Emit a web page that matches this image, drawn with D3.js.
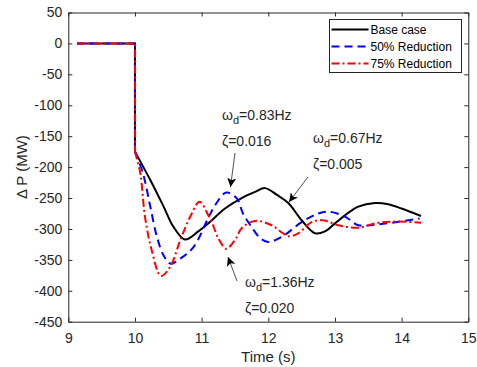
<!DOCTYPE html>
<html><head><meta charset="utf-8">
<script src="https://cdn.jsdelivr.net/npm/d3@7"></script>
<style>
body{margin:0;background:#fff;}
svg{display:block;font-family:"Liberation Sans",Arial,Helvetica,sans-serif;}
</style></head>
<body>
<script>
// ---- data ----
const xTicks = [9,10,11,12,13,14,15];
const yTicks = [50,0,-50,-100,-150,-200,-250,-300,-350,-400,-450];

const baseTime  = [9.13,10,10,10.23,10.43,10.58,10.75,10.95,11.1,11.35,11.6,11.8,11.95,12.13,12.3,12.5,12.7,12.85,13.0,13.15,13.35,13.6,13.8,14.0,14.29];
const baseValue = [0,0,-175,-221,-264,-297,-317,-304,-291,-267,-250,-240,-234,-245,-258,-286,-307,-304,-291,-278,-264,-258,-260,-267,-279];

const r50Time  = [9.13,10,10,10.12,10.23,10.33,10.43,10.53,10.68,10.88,11.1,11.2,11.37,11.53,11.62,11.75,11.88,12.0,12.2,12.5,12.75,12.9,13.15,13.35,13.6,13.85,14.15,14.27];
const r50Value = [0,0,-175,-210,-264,-313,-343,-356,-348,-329,-282,-262,-241,-251,-275,-297,-315,-321,-313,-289,-275,-272,-280,-294,-293,-290,-285,-283];

const r75Time  = [9.13,10,10,10.08,10.15,10.25,10.39,10.53,10.68,10.83,10.97,11.1,11.15,11.25,11.37,11.5,11.6,11.8,12.05,12.22,12.3,12.45,12.65,12.82,13.05,13.35,13.65,13.95,14.29];
const r75Value = [0,0,-175,-210,-280,-334,-376,-361,-318,-280,-256,-278,-288,-315,-332,-318,-299,-287,-294,-307,-312,-307,-289,-286,-294,-298,-290,-288,-290];

const seriesNames = ["Base case","50% Reduction","75% Reduction"];
const seriesColors = ["#000000","#0000ff","#ff0000"];
const seriesDash = [null,"8,5","8,3,2,3"];

const annotations = [
  {freq:"0.83Hz", zeta:"0.016", tx:222, ty:120, from:[235,153], to:[230.5,187]},
  {freq:"0.67Hz", zeta:"0.005", tx:313, ty:143, from:[308,177], to:[289,202]},
  {freq:"1.36Hz", zeta:"0.020", tx:245, ty:287, from:[237,281], to:[228,257]}
];

// ---- layout ----
const W=477,H=367;
const x=d3.scaleLinear().domain([9,15]).range([68.3,468.3]);
const y=d3.scaleLinear().domain([-450,50]).range([321.7,12.5]);
const axisCol="#262626";

const svg=d3.select("body").append("svg").attr("width",W).attr("height",H);

// data series
const series=[
  {t:baseTime,v:baseValue},
  {t:r50Time,v:r50Value},
  {t:r75Time,v:r75Value}
].map((s,i)=>({name:seriesNames[i],color:seriesColors[i],dash:seriesDash[i],pts:s.t.map((t,j)=>[t,s.v[j]])}));

const lineLin=d3.line().x(d=>x(d[0])).y(d=>y(d[1]));
const lineCurve=d3.line().x(d=>x(d[0])).y(d=>y(d[1])).curve(d3.curveCatmullRom.alpha(0.5));

const gLines=svg.append("g");
series.forEach(s=>{
  const step=s.pts.slice(0,3), rest=s.pts.slice(2);
  [ [step,lineLin],[rest,lineCurve] ].forEach(([pts,gen])=>{
    gLines.append("path").attr("d",gen(pts)).attr("fill","none")
      .attr("stroke",s.color).attr("stroke-width",2)
      .attr("stroke-dasharray",s.dash);
  });
});

// axes
const fs=14;
const ax=svg.append("g").attr("transform",`translate(0,${y(-450)})`)
  .call(d3.axisBottom(x).tickValues(xTicks).tickFormat(d3.format("d")).tickSizeInner(-4).tickSizeOuter(0).tickPadding(11));
const ay=svg.append("g").attr("transform",`translate(${x(9)},0)`)
  .call(d3.axisLeft(y).tickValues(yTicks).tickFormat(d3.format("d")).tickSizeInner(-4).tickSizeOuter(0).tickPadding(6));
const at=svg.append("g").attr("transform",`translate(0,${y(50)})`)
  .call(d3.axisTop(x).tickValues(xTicks).tickFormat("").tickSizeInner(-4).tickSizeOuter(0));
const ar=svg.append("g").attr("transform",`translate(${x(15)},0)`)
  .call(d3.axisRight(y).tickValues(yTicks).tickFormat("").tickSizeInner(-4).tickSizeOuter(0));
[ax,ay,at,ar].forEach(g=>{
  g.select(".domain").attr("stroke",axisCol).attr("stroke-width",1);
  g.selectAll(".tick line").attr("stroke",axisCol).attr("stroke-width",1);
  g.selectAll(".tick text").attr("fill",axisCol).attr("font-size",fs).attr("font-family","Liberation Sans, Arial, sans-serif");
});
ay.selectAll(".tick text").text(d=>d<0?"-"+Math.abs(d):d);

// axis labels
svg.append("text").attr("x",(x(9)+x(15))/2).attr("y",362).attr("text-anchor","middle")
  .attr("font-size",15).attr("fill",axisCol).text("Time (s)");
svg.append("text").attr("transform",`translate(27,${(y(50)+y(-450))/2}) rotate(-90)`)
  .attr("text-anchor","middle").attr("font-size",15).attr("fill",axisCol).text("\u0394 P (MW)");

// annotations
const defs=svg.append("defs");
defs.append("marker").attr("id","ah").attr("viewBox","0 0 10 10").attr("refX",10).attr("refY",5)
  .attr("markerWidth",9).attr("markerHeight",9).attr("markerUnits","userSpaceOnUse").attr("orient","auto")
  .append("path").attr("d","M0,0 L10,5 L0,10 L2.5,5 Z").attr("fill","#000");
annotations.forEach(a=>{
  const t=svg.append("text").attr("x",a.tx).attr("y",a.ty).attr("font-size",14).attr("fill",axisCol);
  t.append("tspan").text("\u03c9");
  t.append("tspan").attr("font-size",11).attr("dy",4).text("d");
  t.append("tspan").attr("dy",-4).text("="+a.freq);
  svg.append("text").attr("x",a.tx).attr("y",a.ty+26).attr("font-size",14).attr("fill",axisCol)
    .text("\u03b6="+a.zeta);
  svg.append("line").attr("x1",a.from[0]).attr("y1",a.from[1]).attr("x2",a.to[0]).attr("y2",a.to[1])
    .attr("stroke","#222").attr("stroke-width",0.8).attr("marker-end","url(#ah)");
});

// legend
const lg=svg.append("g");
lg.append("rect").attr("x",329.5).attr("y",19.5).attr("width",132).attr("height",53)
  .attr("fill","#fff").attr("stroke","#262626").attr("stroke-width",1);
series.forEach((s,i)=>{
  const yy=29.5+i*17;
  lg.append("line").attr("x1",331.5).attr("x2",368.5).attr("y1",yy).attr("y2",yy)
    .attr("stroke",s.color).attr("stroke-width",2).attr("stroke-dasharray",s.dash);
  lg.append("text").attr("x",370.5).attr("y",yy+4.5).attr("font-size",12).attr("fill","#000").text(s.name);
});
</script>
</body></html>
